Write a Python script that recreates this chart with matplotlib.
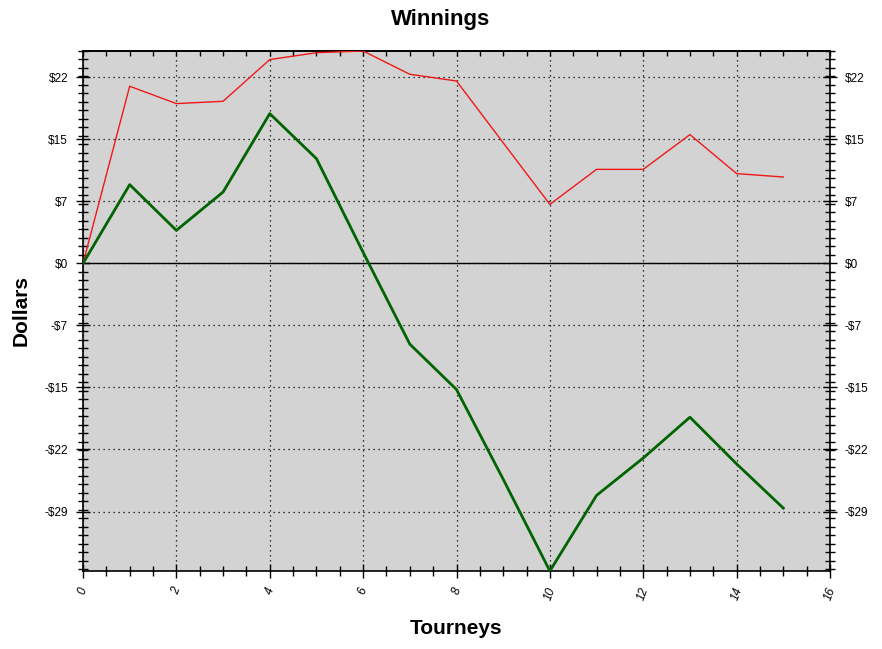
# Winnings chart: two running totals over tourneys
import matplotlib
matplotlib.use("Agg")
from matplotlib import pyplot as plt
from matplotlib.ticker import MultipleLocator, FuncFormatter, NullFormatter

plt.rcParams["font.family"] = ["Liberation Sans", "DejaVu Sans"]

# Data
tourneys = [0, 1, 2, 3, 4, 5, 6, 7, 8, 9, 10, 11, 12, 13, 14, 15]
red_totals = [0.0, 20.85, 18.81, 19.08, 23.99, 24.8, 25.0, 22.26, 21.47,
              14.2, 6.95, 11.07, 11.07, 15.16, 10.57, 10.17]
green_totals = [0.0, 9.27, 3.89, 8.40, 17.63, 12.33, 1.3, -9.5, -14.84,
                -25.4, -36.2, -27.3, -22.9, -18.1, -23.6, -28.8]

title_txt = "Winnings"
x_label = "Tourneys"
y_label = "Dollars"


def dollar_fmt(v, pos):
    n = int(round(abs(v)))
    if n == 0:
        return "$0"
    return ("-$%d" if v < 0 else "$%d") % n


fig = plt.figure(figsize=(8.82, 6.49), dpi=100)
ax = fig.add_axes([83 / 882, 1 - 571 / 649, (830 - 83) / 882, (571 - 51) / 649])
ax.set_facecolor("#d3d3d3")

ax.plot(tourneys, red_totals, color="#f01818", lw=1.0, zorder=3)
ax.plot(tourneys, green_totals, color="#006400", lw=2.0, zorder=3)
ax.axhline(0, color="black", lw=1.0, zorder=2)

ax.set_xlim(0, 16)
ax.set_ylim(min(green_totals), max(red_totals))

ax.xaxis.set_major_locator(MultipleLocator(2))
ax.xaxis.set_minor_locator(MultipleLocator(0.5))
ax.yaxis.set_major_locator(MultipleLocator(7.3))
ax.yaxis.set_minor_locator(MultipleLocator(1))
ax.yaxis.set_major_formatter(FuncFormatter(dollar_fmt))

ax.grid(True, which="major", color="black", lw=0.9, linestyle=(0, (1, 3)))
ax.set_axisbelow(True)

ax.tick_params(axis="both", which="both", direction="inout", top=False, right=True,
               labelright=True, labelsize=8.5, width=1)
ax.tick_params(axis="both", which="major", length=9.5, pad=6)
ax.tick_params(axis="both", which="minor", length=6.5)
plt.setp(ax.get_xticklabels(), rotation=70, ha="center", fontstyle="italic")

# top edge: short inward ticks only
top = ax.secondary_xaxis("top")
top.xaxis.set_major_locator(MultipleLocator(2))
top.xaxis.set_minor_locator(MultipleLocator(0.5))
top.xaxis.set_major_formatter(NullFormatter())
top.tick_params(which="both", direction="in", length=3.5, width=1)

for s in ax.spines.values():
    s.set_linewidth(1.2)
top.spines["top"].set_linewidth(1.2)

# title placed on the figure so the top axis does not push it around
fig.text(0.5, 1 - 20 / 649, title_txt, fontsize=16, fontweight="bold",
         ha="center", va="center")
ax.set_xlabel(x_label, fontsize=15, fontweight="bold", labelpad=12)
ax.set_ylabel(y_label, fontsize=15, fontweight="bold", labelpad=10)

plt.savefig("out.png", dpi=100)
